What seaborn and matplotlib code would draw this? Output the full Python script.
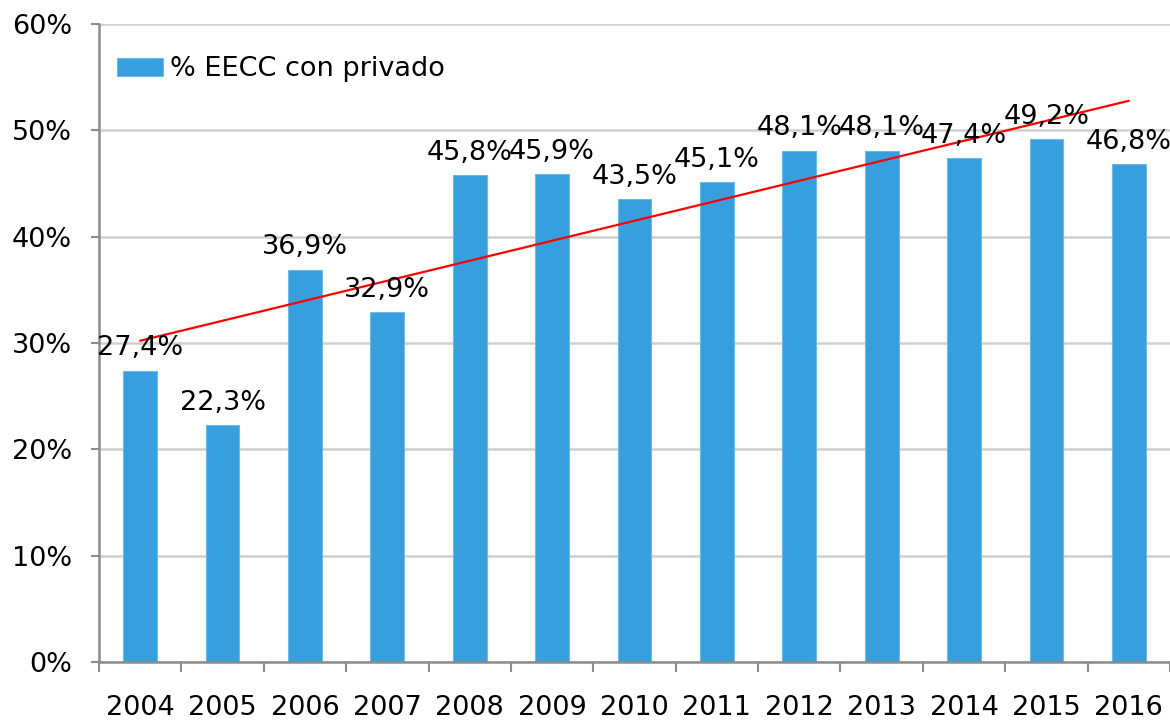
import numpy as np
import pandas as pd
import matplotlib
matplotlib.use("Agg")
import matplotlib.pyplot as plt
import seaborn as sns
from matplotlib.ticker import FixedLocator, FuncFormatter

years = ["2004", "2005", "2006", "2007", "2008", "2009", "2010",
         "2011", "2012", "2013", "2014", "2015", "2016"]
values = [27.4, 22.3, 36.9, 32.9, 45.8, 45.9, 43.5, 45.1, 48.1, 48.1, 47.4, 49.2, 46.8]
series_name = "% EECC con privado"

sns.set_theme(style="white")
plt.rcParams['font.family'] = ['DejaVu Sans']

df = pd.DataFrame({"year": years, "value": values})

fig = plt.figure(figsize=(11.70, 7.21), dpi=100)
ax = fig.add_axes([0.0846, 0.082, 1.0 - 0.0846, 0.9667 - 0.082])

sns.barplot(data=df, x="year", y="value", color="#389FDE", width=0.41,
            saturation=1, ax=ax, label=series_name,
            edgecolor="#6DB9E8", linewidth=0.8)

# linear trend line
xs = np.arange(len(values))
coef = np.polyfit(xs, values, 1)
ax.plot(xs, np.polyval(coef, xs), color="#FF0000", lw=1.6, zorder=4)

FS = 19.5

# value labels
for i, v in enumerate(values):
    ax.annotate(f"{v:.1f}".replace(".", ",") + "%", (i, v),
                xytext=(0, 11), textcoords="offset points",
                ha="center", va="baseline", fontsize=FS, color="#000000",
                annotation_clip=False, zorder=5)

ax.set_ylim(0, 60)
ax.set_xlim(-0.5, len(values) - 0.5)
ax.yaxis.set_major_locator(FixedLocator(np.arange(0, 61, 10)))
ax.yaxis.set_major_formatter(FuncFormatter(lambda v, p: f"{v:.0f}%"))
ax.grid(axis="y", color="#D0D0D0", lw=1.8)
ax.set_axisbelow(True)

ax.set_xlabel("")
ax.set_ylabel("")

for s in ["top", "right"]:
    ax.spines[s].set_visible(False)
for s in ["left", "bottom"]:
    ax.spines[s].set_color("#8C8C8C")
    ax.spines[s].set_linewidth(1.8)

ax.tick_params(axis="y", which="major", length=5.5, width=1.5, color="#8C8C8C",
               labelsize=FS, pad=14, labelcolor="#000000", left=True)
ax.tick_params(axis="x", which="major", length=0, labelsize=FS, pad=24,
               labelcolor="#000000")
ax.xaxis.set_minor_locator(FixedLocator(np.arange(-0.5, len(values), 1.0)))
ax.tick_params(axis="x", which="minor", length=7.5, width=1.5, color="#8C8C8C",
               bottom=True)

leg = ax.legend(loc="center left", bbox_to_anchor=(18 / 1071, 0.929),
                frameon=False, fontsize=FS, handlelength=1.7, handleheight=0.65,
                handletextpad=0.25, borderaxespad=0, borderpad=0)
for t in leg.get_texts():
    t.set_color("#000000")

fig.savefig("out.png", dpi=100)
